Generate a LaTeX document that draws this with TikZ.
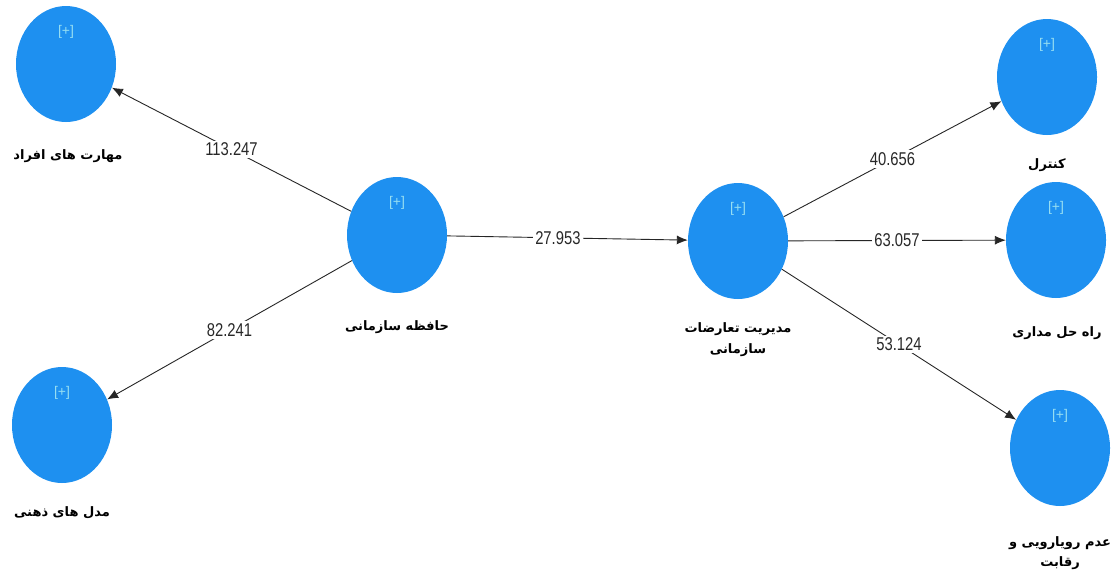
\documentclass[tikz,border=0pt]{standalone}
\usepackage{fontspec}
\setmainfont{Liberation Sans}
\newfontfamily\fa[Script=Arabic]{DejaVu Sans}
\newfontfamily\numfont[FakeStretch=0.8]{Liberation Sans}
\TeXXeTstate=1
\usetikzlibrary{shapes.geometric,arrows.meta}
\definecolor{lvblue}{RGB}{30,144,240}
\definecolor{plusc}{RGB}{150,222,242}
\definecolor{numc}{RGB}{40,40,40}

\tikzset{
  lv/.style={ellipse, fill=lvblue, minimum width=100pt, minimum height=116pt, inner sep=0pt},
  plusmark/.style={text=plusc, font=\fontsize{14}{14}\selectfont, inner sep=0pt},
  lvname/.style={font=\fa\bfseries\fontsize{13}{21}\selectfont, align=center, inner sep=1pt},
  link/.style={draw=black!85, line width=0.9pt, -{Latex[length=11pt,width=9pt]}},
  coef/.style={fill=white, inner sep=2pt, text=numc, font=\numfont\fontsize{18.5}{18.5}\selectfont}
}

\begin{document}
\begin{tikzpicture}[x=1pt,y=-1pt]
\useasboundingbox[fill=white] (0,0) rectangle (1118,571);

% latent variables
\node[lv] (mah) at (66,64) {};
\node[lv] (mod) at (62,425) {};
\node[lv] (haf) at (397,235) {};
\node[lv] (mod2) at (738,241) {};
\node[lv] (kon) at (1047,77) {};
\node[lv] (rah) at (1056,240) {};
\node[lv] (adm) at (1060,448) {};

% expand markers
\foreach \n in {mah,mod,haf,mod2,kon,rah,adm}
  \node[plusmark] (\n p) at ([yshift=32pt]\n.center) {[+]};

% names
\node[lvname] (mahl) at (68,156) {\beginR مهارت های افراد\endR};
\node[lvname] (modl) at (62,513) {\beginR مدل های ذهنی\endR};
\node[lvname] (hafl) at (397,327) {\beginR حافظه سازمانی\endR};
\node[lvname] (mod2l) at (738,340) {\beginR مدیریت تعارضات\endR\\\beginR سازمانی\endR};
\node[lvname] (konl) at (1047,165) {\beginR کنترل\endR};
\node[lvname] (rahl) at (1057,333) {\beginR راه حل مداری\endR};
\node[lvname, font=\fa\bfseries\fontsize{13}{20}\selectfont] (adml) at (1060,553) {\beginR عدم رویارویی و\endR\\\beginR رقابت\endR};

% paths with coefficients
\draw[link] (haf) -- node[coef] {113.247} (mah);
\draw[link] (haf) -- node[coef] {82.241} (mod);
\draw[link] (haf) -- node[coef, pos=0.46] {27.953} (mod2);
\draw[link] (mod2) -- node[coef] {40.656} (kon);
\draw[link] (mod2) -- node[coef] {63.057} (rah);
\draw[link] (mod2) -- node[coef] {53.124} (adm);
\end{tikzpicture}
\end{document}
